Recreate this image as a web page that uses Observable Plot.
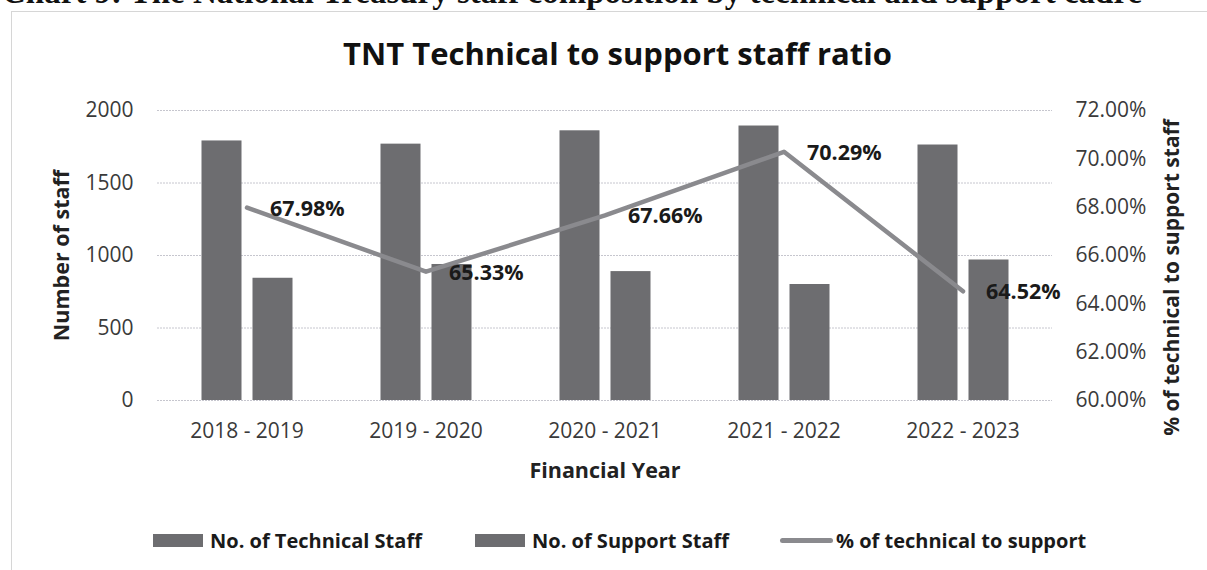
<!DOCTYPE html>
<html>
<head>
<meta charset="utf-8">
<script src="https://cdn.jsdelivr.net/npm/d3@7"></script>
<script src="https://cdn.jsdelivr.net/npm/@observablehq/plot@0.6"></script>
<style>
  html, body { margin: 0; padding: 0; background: #fff; width: 1207px; height: 570px; overflow: hidden; position: relative; }
  #header { position: absolute; left: 2px; top: -26px; line-height: 33px; font: bold 33px "Liberation Serif", "Times New Roman", serif; color: #111; white-space: nowrap; }
  #frame { position: absolute; left: 11px; top: 11px; width: 1210px; height: 580px; border: 1px solid #d6d6d6; box-sizing: border-box; }
  #title { position: absolute; left: 14px; width: 1207px; top: 32px; text-align: center; font: bold 31px "Open Sans", sans-serif; color: #111; white-space: nowrap; }
  #chart { position: absolute; left: 0; top: 80px; }
  .leg { position: absolute; top: 528px; height: 24px; display: flex; align-items: center; font: bold 20px "Open Sans", sans-serif; color: #1a1a1a; white-space: nowrap; }
  .sw { display: inline-block; width: 50px; height: 13px; background: #6d6d70; margin-right: 7px; }
  .ln { display: inline-block; width: 53px; height: 5px; border-radius: 3px; background: #8a8a8e; margin-right: 3px; }
</style>
</head>
<body>
<div id="header">Chart 9: The National Treasury staff composition by technical and support cadre</div>
<div id="frame"></div>
<div id="title">TNT Technical to support staff ratio</div>
<div id="chart"></div>
<div class="leg" style="left:153px"><span class="sw"></span>No. of Technical Staff</div>
<div class="leg" style="left:475px"><span class="sw"></span>No. of Support Staff</div>
<div class="leg" style="left:780px"><span class="ln"></span>% of technical to support</div>
<script>
const years = ["2018 - 2019", "2019 - 2020", "2020 - 2021", "2021 - 2022", "2022 - 2023"];
const technicalStaff = [1790, 1768, 1860, 1893, 1762];
const supportStaff = [843, 938, 889, 800, 969];
const ratioPct = [67.98, 65.33, 67.66, 70.29, 64.52];
const countTicks = [0, 500, 1000, 1500, 2000];
const pctTicks = [60, 62, 64, 66, 68, 70, 72];

const pctMin = 60, pctMax = 72, countMax = 2000;
const pctToCount = p => (p - pctMin) / (pctMax - pctMin) * countMax;
const countToPct = c => pctMin + c / countMax * (pctMax - pctMin);

const rows = years.map((year, i) => ({
  year,
  technical: technicalStaff[i],
  support: supportStaff[i],
  ratio: ratioPct[i]
}));

const font = "'Open Sans', sans-serif";

const chart = Plot.plot({
  width: 1207,
  height: 400,
  marginTop: 30,
  marginBottom: 80,
  marginLeft: 157,
  marginRight: 155,
  style: { fontFamily: font, background: "transparent", overflow: "visible" },
  x: { type: "band", domain: years, padding: 0, axis: null },
  y: { domain: [0, countMax], axis: null },
  marks: [
    Plot.ruleY(countTicks, { stroke: "#c6c6ce", strokeDasharray: "2,1" }),
    Plot.barY(rows, { x: "year", y: "technical", fill: "#6d6d70", insetLeft: 44.5, insetRight: 94.5 }),
    Plot.barY(rows, { x: "year", y: "support", fill: "#6d6d70", insetLeft: 95.5, insetRight: 43.5 }),
    Plot.line(rows, { x: "year", y: d => pctToCount(d.ratio), stroke: "#8a8a8e", strokeWidth: 4.5, strokeLinejoin: "round", strokeLinecap: "round" }),
    Plot.text(rows, { x: "year", y: d => pctToCount(d.ratio), text: d => d.ratio.toFixed(2) + "%", textAnchor: "start", dx: 23, dy: 1, fontWeight: "bold", fontSize: 21.5, fill: "#1a1a1a" }),
    Plot.axisX({ tickSize: 0, tickPadding: 23, fontSize: 21, fill: "#3a3a3a", label: null }),
    Plot.axisY(countTicks, { anchor: "left", tickSize: 0, tickPadding: 24, fontSize: 21, fill: "#3a3a3a", label: null, tickFormat: d => String(d) }),
    Plot.axisY(pctTicks.map(pctToCount), { anchor: "right", tickSize: 0, tickPadding: 23, fontSize: 21, fill: "#3a3a3a", label: null, tickFormat: v => countToPct(v).toFixed(2) + "%" }),
    Plot.text(["Number of staff"], { frameAnchor: "left", text: d => d, rotate: -90, textAnchor: "middle", lineAnchor: "middle", dx: -95, fontWeight: "bold", fontSize: 21.5, fill: "#222" }),
    Plot.text(["% of technical to support staff"], { frameAnchor: "right", text: d => d, rotate: -90, textAnchor: "middle", lineAnchor: "middle", dx: 120, dy: 22, fontWeight: "bold", fontSize: 21, fill: "#222" }),
    Plot.text(["Financial Year"], { frameAnchor: "bottom", text: d => d, textAnchor: "middle", lineAnchor: "middle", dy: 71, fontWeight: "bold", fontSize: 21.5, fill: "#222" })
  ]
});
document.getElementById("chart").appendChild(chart);
</script>
</body>
</html>
